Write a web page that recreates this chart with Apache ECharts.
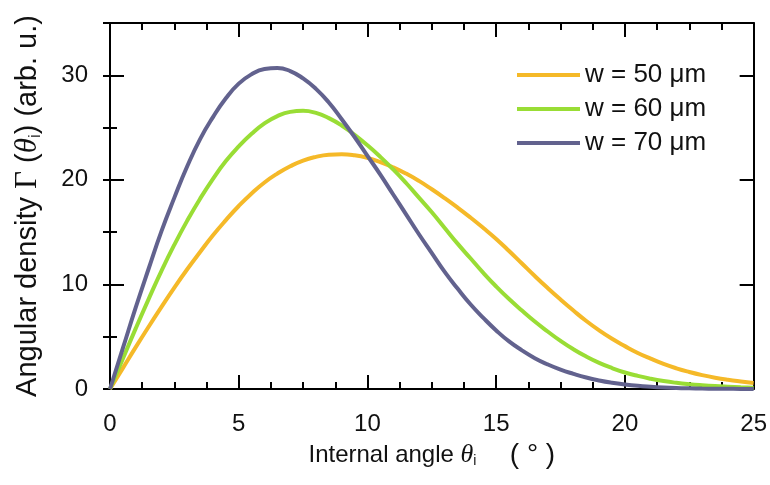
<!DOCTYPE html>
<html><head><meta charset="utf-8">
<script src="https://cdn.jsdelivr.net/npm/echarts@6/dist/echarts.min.js"></script>
<style>html,body{margin:0;padding:0;background:#fff}#c{width:770px;height:485px}</style>
</head><body><div id="c"></div>
<script>
// Internal angle (deg)
const theta = [0,0.5,1,1.5,2,2.5,3,3.5,4,4.5,5,5.5,6,6.5,7,7.5,8,8.5,9,9.5,10,10.5,11,11.5,12,12.5,
  13,13.5,14,14.5,15,15.5,16,16.5,17,17.5,18,18.5,19,19.5,20,20.5,21,21.5,22,22.5,23,23.5,24,24.5,25];
// Angular density (arb. u.)
const w50 = [0,2.0,4.0,5.95,7.85,9.7,11.45,13.1,14.7,16.15,17.5,18.7,19.75,20.6,21.3,21.85,22.2,22.4,22.45,22.35,22.1,21.7,21.2,20.6,19.9,19.1,
  18.25,17.35,16.4,15.4,14.35,13.2,12.0,10.8,9.65,8.55,7.5,6.5,5.6,4.8,4.1,3.45,2.9,2.4,1.98,1.63,1.33,1.08,0.88,0.72,0.58];
const w60 = [0,2.9,5.8,8.6,11.3,13.8,16.1,18.2,20.1,21.8,23.2,24.4,25.4,26.1,26.5,26.6,26.4,25.9,25.2,24.3,23.3,22.2,21.0,19.7,18.3,16.9,
  15.4,13.9,12.5,11.1,9.8,8.6,7.5,6.45,5.5,4.6,3.8,3.1,2.5,2.0,1.58,1.25,0.98,0.76,0.59,0.46,0.36,0.28,0.22,0.17,0.13];
const w70 = [0,3.9,7.8,11.5,15.1,18.3,21.3,23.9,26.0,27.8,29.2,30.1,30.6,30.7,30.4,29.7,28.7,27.4,25.8,24.1,22.3,20.5,18.6,16.7,14.8,13.0,
  11.2,9.6,8.1,6.8,5.6,4.55,3.7,2.95,2.35,1.85,1.45,1.1,0.82,0.6,0.43,0.3,0.21,0.14,0.09,0.06,0.04,0.03,0.02,0.01,0.01];
const seriesNames = ['w = 50 μm','w = 60 μm','w = 70 μm'];
const seriesColors = ['#F5B928','#99DD35','#62628E'];
const xTickLabels = [0,5,10,15,20,25];
const yTickLabels = [0,10,20,30];

const SANS = 'Liberation Sans';
const SERIF = 'Liberation Serif';
const TXT = '#111';

const chart = echarts.init(document.getElementById('c'), null, {renderer:'canvas'});

const lineAxis = {show:true, onZero:false, lineStyle:{color:'#000', width:2}};
function richName(fs){
  return {
    a:{fontFamily:SANS, fontSize:fs, color:TXT},
    p:{fontFamily:SANS, fontSize:fs+4, color:TXT},
    g:{fontFamily:SERIF, fontSize:fs+2, color:TXT},
    t:{fontFamily:SERIF, fontStyle:'italic', fontSize:fs+2, color:TXT},
    s:{fontFamily:SANS, fontSize:Math.round(fs*0.6), color:TXT, padding:[Math.round(fs*0.5),0,0,0]}
  };
}

function xAx(pos, withLabels){
  return {
    type:'value', position:pos, min:0, max:25, interval:5,
    axisLine:lineAxis,
    axisTick:{show:true, inside:true, length:14, lineStyle:{color:'#000', width:2}},
    minorTick:{show:true, splitNumber:4, length:7, lineStyle:{color:'#000', width:2}},
    splitLine:{show:false}, minorSplitLine:{show:false},
    axisLabel:{show:withLabels, fontFamily:SANS, fontSize:24, color:TXT, margin:23,
      formatter:v=> xTickLabels.includes(v) ? String(v) : ''},
    name: withLabels ? '{a|Internal angle }{t|θ}{s|i}{a|     }{p|( ° )}' : '',
    nameLocation:'middle', nameGap:51,
    nameTextStyle:{fontFamily:SANS, fontSize:24, color:TXT, rich:richName(24)}
  };
}
function yAx(pos, interval, tickLen, showLine, withLabels){
  return {
    type:'value', position:pos, min:0, max:35, interval:interval,
    axisLine: showLine ? lineAxis : {show:false},
    axisTick:{show:true, inside:true, length:tickLen, lineStyle:{color:'#000', width:2}},
    splitLine:{show:false},
    axisLabel:{show:withLabels, fontFamily:SANS, fontSize:24, color:TXT, margin:22,
      showMaxLabel:false,
      formatter:v=> yTickLabels.includes(v) ? String(v) : ''},
    name: withLabels ? '{a|Angular density }{g|Γ}{a| (}{t|θ}{s|i}{a|) (arb. u.)}' : '',
    nameLocation:'middle', nameRotate:90, nameGap:66,
    nameTextStyle:{fontFamily:SANS, fontSize:29, color:TXT, rich:richName(29)}
  };
}

const series = [w50, w60, w70].map((vals, k) => ({
  name: seriesNames[k], type:'line', xAxisIndex:0, yAxisIndex:0,
  data: theta.map((t,i)=>[t, vals[i]]),
  smooth:0.5, showSymbol:false, symbol:'none',
  lineStyle:{width:4, color:seriesColors[k]}, itemStyle:{color:seriesColors[k]},
  z:3
}));

chart.setOption({
  animation:false,
  backgroundColor:'#fff',
  grid:{left:110, right:16, top:23, bottom:96, containLabel:false},
  legend:{orient:'vertical', left:512, top:57, icon:'rect', itemWidth:63, itemHeight:4, itemGap:8,
    textStyle:{fontFamily:SANS, fontSize:26, color:TXT, lineHeight:25},
    data:seriesNames},
  xAxis:[xAx('bottom', true), xAx('top', false)],
  yAxis:[yAx('left',10,14,true,true), yAx('left',5,7,false,false), yAx('right',10,14,true,false), yAx('right',5,7,false,false)],
  series: series
});
</script></body></html>
